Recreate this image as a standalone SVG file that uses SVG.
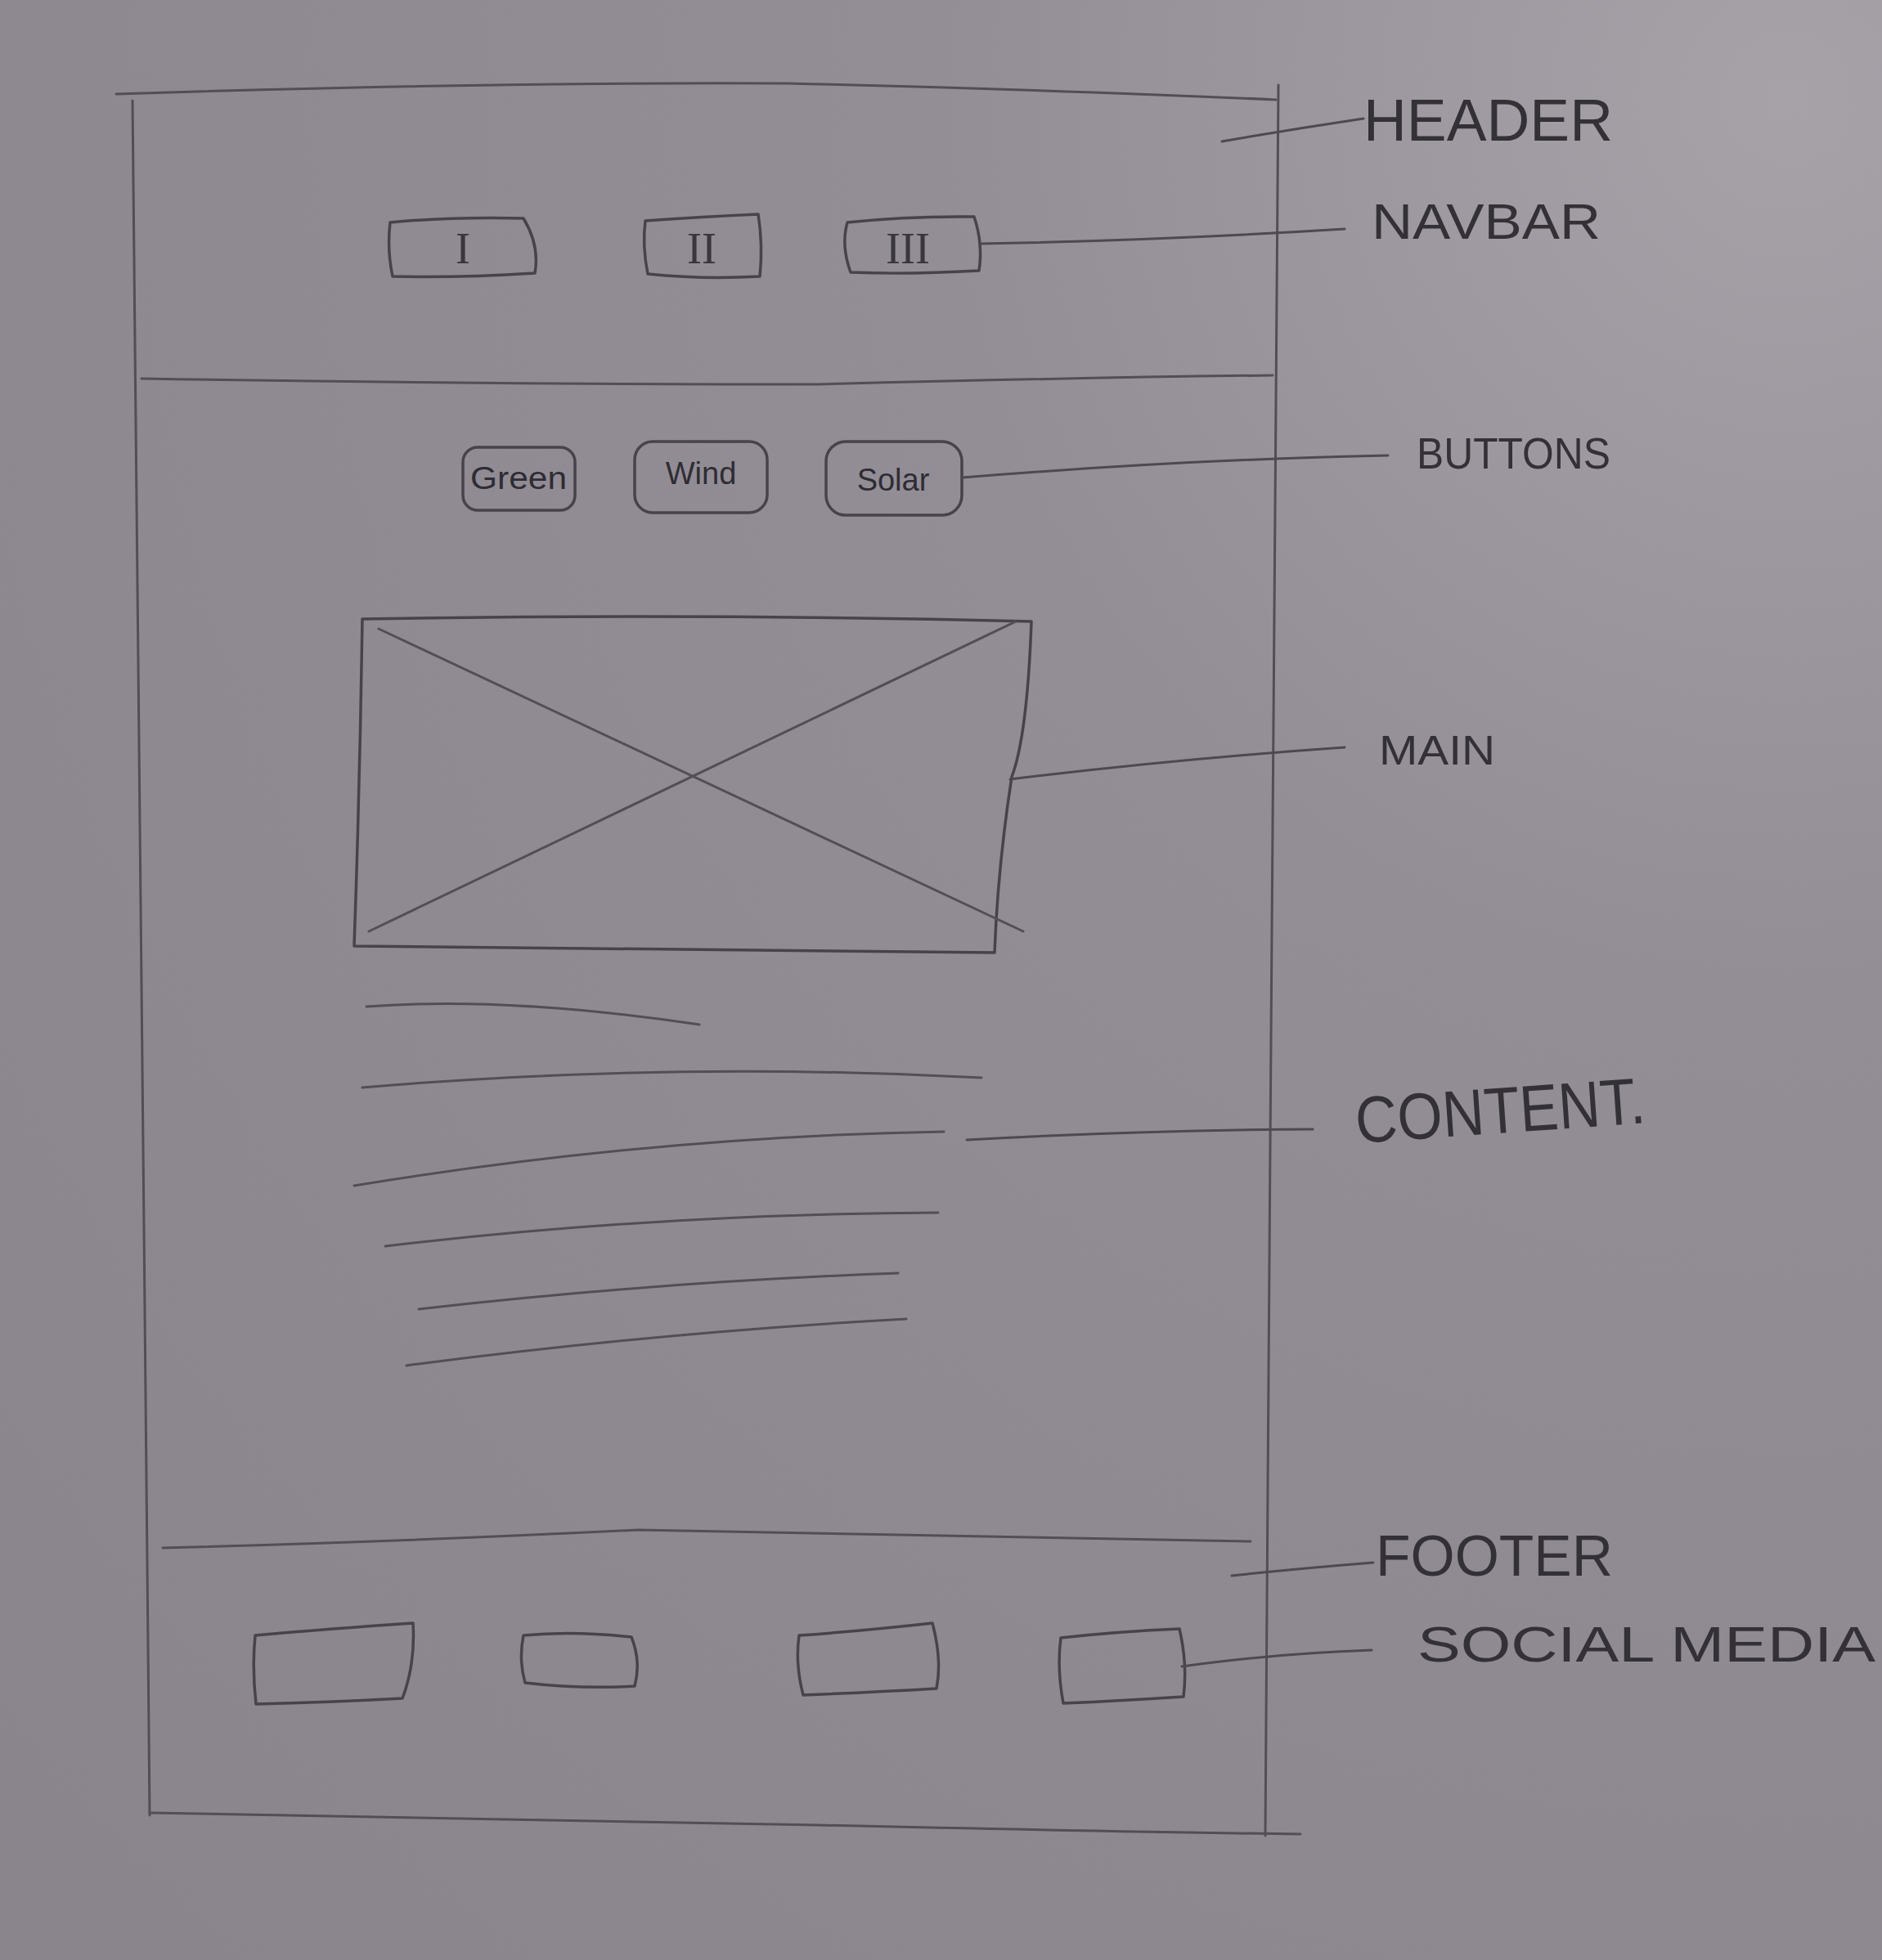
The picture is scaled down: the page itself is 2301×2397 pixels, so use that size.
<svg xmlns="http://www.w3.org/2000/svg" width="2301" height="2397" viewBox="0 0 2301 2397">
  <defs>
    <radialGradient id="paper" cx="0.95" cy="0.05" r="1.3">
      <stop offset="0" stop-color="#a7a2a8"/>
      <stop offset="0.35" stop-color="#938e96"/>
      <stop offset="1" stop-color="#8a858d"/>
    </radialGradient>
    <style>
      .pen { fill: none; stroke: #524e56; stroke-width: 3; stroke-linecap: round; stroke-linejoin: round; }
      .box { fill: none; stroke: #47434b; stroke-width: 3.5; stroke-linecap: round; stroke-linejoin: round; }
      .lead { fill: none; stroke: #4d4951; stroke-width: 3; stroke-linecap: round; }
      .label { font-family: "Liberation Sans", "DejaVu Sans", sans-serif; fill: #333036; font-weight: normal; }
      .btn { font-family: "Liberation Sans", "DejaVu Sans", sans-serif; fill: #2f2c33; font-size: 38px; }
      .nav { font-family: "Liberation Serif", "DejaVu Serif", serif; fill: #3a363e; font-size: 54px; }
    </style>
  </defs>

  <!-- paper -->
  <rect x="0" y="0" width="2301" height="2397" fill="url(#paper)"/>

  <!-- page frame with header and footer dividers -->
  <g id="page">
    <path class="pen" d="M142 115 Q600 100 963 102 Q1300 110 1560 122"/>
    <path class="pen" d="M162 123 Q172 900 176 1500 Q180 1900 183 2220"/>
    <path class="pen" d="M183 2217 Q700 2226 1000 2232 Q1350 2240 1590 2243"/>
    <path class="pen" d="M1563 104 Q1558 800 1553 1400 Q1549 1900 1547 2245"/>
  </g>
  <g id="header">
    <path class="pen" d="M173 463 Q600 470 1000 470 Q1300 462 1556 459"/>
  </g>
  <g id="footer">
    <path class="pen" d="M199 1893 Q500 1885 780 1871 Q1100 1878 1529 1885"/>
  </g>

  <!-- navbar items -->
  <g id="nav-1">
    <path class="box" d="M477 272 Q550 265 640 267 Q660 300 654 334 Q560 340 480 338 Q473 305 477 272 Z"/>
    <text class="nav" x="566" y="322" text-anchor="middle">I</text>
  </g>
  <g id="nav-2">
    <path class="box" d="M789 270 Q860 265 927 262 Q933 300 929 338 Q860 342 792 335 Q785 300 789 270 Z"/>
    <text class="nav" x="858" y="322" text-anchor="middle">II</text>
  </g>
  <g id="nav-3">
    <path class="box" d="M1036 272 Q1110 264 1191 265 Q1202 298 1197 331 Q1110 336 1040 333 Q1028 300 1036 272 Z"/>
    <text class="nav" x="1110" y="322" text-anchor="middle">III</text>
  </g>

  <!-- topic buttons -->
  <g id="btn-green">
    <rect class="box" x="566" y="547" width="137" height="77" rx="18"/>
    <text class="btn" x="634" y="598" text-anchor="middle" textLength="118" lengthAdjust="spacingAndGlyphs">Green</text>
  </g>
  <g id="btn-wind">
    <rect class="box" x="776" y="540" width="162" height="87" rx="22"/>
    <text class="btn" x="857" y="592" text-anchor="middle" font-size="44">Wind</text>
  </g>
  <g id="btn-solar">
    <rect class="box" x="1010" y="540" width="166" height="90" rx="24"/>
    <text class="btn" x="1092" y="600" text-anchor="middle" font-size="46">Solar</text>
  </g>

  <!-- hero image placeholder -->
  <g id="main-image">
    <path class="box" d="M443 757 Q850 750 1261 760 Q1256 900 1237 950 Q1220 1060 1216 1165 Q820 1160 433 1157 Q440 960 443 757 Z"/>
    <path class="pen" d="M463 769 L1251 1139"/>
    <path class="pen" d="M451 1139 L1242 760"/>
  </g>

  <!-- body text lines -->
  <g id="content">
    <path class="pen" d="M448 1231 Q620 1218 855 1253"/>
    <path class="pen" d="M443 1330 Q820 1298 1200 1318"/>
    <path class="pen" d="M433 1450 Q800 1390 1154 1384"/>
    <path class="pen" d="M471 1524 Q800 1485 1147 1483"/>
    <path class="pen" d="M512 1601 Q800 1568 1098 1557"/>
    <path class="pen" d="M497 1670 Q800 1630 1108 1613"/>
  </g>

  <!-- social media buttons -->
  <g id="social-1">
    <path class="box" d="M312 2000 Q400 1992 505 1985 Q508 2035 492 2077 Q400 2082 313 2084 Q308 2040 312 2000 Z"/>
  </g>
  <g id="social-2">
    <path class="box" d="M640 2000 Q700 1994 772 2002 Q784 2032 776 2062 Q710 2066 642 2058 Q634 2030 640 2000 Z"/>
  </g>
  <g id="social-3">
    <path class="box" d="M977 2000 Q1050 1995 1140 1985 Q1152 2030 1145 2065 Q1060 2070 982 2073 Q972 2035 977 2000 Z"/>
  </g>
  <g id="social-4">
    <path class="box" d="M1297 2003 Q1370 1995 1442 1992 Q1452 2035 1447 2075 Q1370 2080 1300 2083 Q1292 2040 1297 2003 Z"/>
  </g>

  <!-- annotation leaders -->
  <g id="connectors">
    <path class="lead" d="M1494 173 Q1580 158 1667 145"/>
    <path class="lead" d="M1200 298 Q1420 294 1644 280"/>
    <path class="lead" d="M1177 584 Q1450 562 1697 557"/>
    <path class="lead" d="M1235 953 Q1440 928 1644 914"/>
    <path class="lead" d="M1182 1394 Q1400 1382 1605 1381"/>
    <path class="lead" d="M1506 1927 Q1590 1918 1679 1911"/>
    <path class="lead" d="M1445 2038 Q1560 2022 1677 2018"/>
  </g>

  <!-- annotation labels -->
  <g id="labels">
    <text class="label" x="1667" y="172" font-size="72" textLength="305" lengthAdjust="spacingAndGlyphs">HEADER</text>
    <text class="label" x="1677" y="292" font-size="62" textLength="280" lengthAdjust="spacingAndGlyphs">NAVBAR</text>
    <text class="label" x="1732" y="573" font-size="54" textLength="237" lengthAdjust="spacingAndGlyphs">BUTTONS</text>
    <text class="label" x="1686" y="935" font-size="50" textLength="142" lengthAdjust="spacingAndGlyphs">MAIN</text>
    <text class="label" x="1659" y="1398" font-size="80" textLength="355" lengthAdjust="spacingAndGlyphs" transform="rotate(-4 1659 1398)">CONTENT.</text>
    <text class="label" x="1682" y="1927" font-size="70" textLength="290" lengthAdjust="spacingAndGlyphs">FOOTER</text>
    <text class="label" x="1733" y="2032" font-size="62" textLength="560" lengthAdjust="spacingAndGlyphs">SOCIAL  MEDIA</text>
  </g>
</svg>
